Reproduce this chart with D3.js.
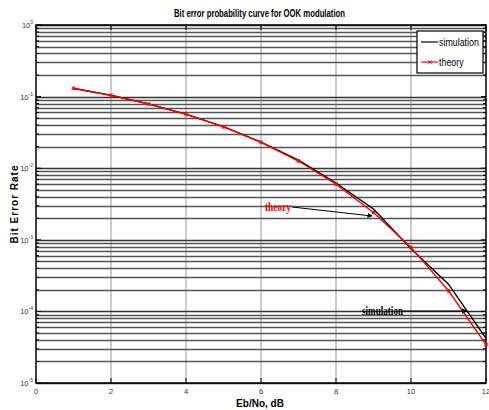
<!DOCTYPE html>
<html><head><meta charset="utf-8">
<script src="https://cdn.jsdelivr.net/npm/d3@7"></script>
<style>
body{margin:0;background:#fff;}
svg{display:block;}
</style></head>
<body>
<svg id="c" width="489" height="410"></svg>
<script>
const ebno = [1,2,3,4,5,6,7,8,9,10,11,12];
const theory = [0.1309,0.1040,0.0789,0.0565,0.0377,0.0230,0.0126,0.0060,0.00241,0.000783,0.000194,0.0000343];
const simulation = [0.1300,0.1045,0.0790,0.0568,0.0380,0.0232,0.0130,0.0062,0.0027,0.00075,0.00024,0.0000420];
const xTicks = [0,2,4,6,8,10,12];
const yDecades = [-5,-4,-3,-2,-1,0];
const titleText = "Bit error probability curve for OOK modulation";
const xLabel = "Eb/No, dB";
const yLabel = "Bit Error Rate";
const legendNames = ["simulation","theory"];

const svg = d3.select("#c");
const L=36, R=486, T=25, B=383;
const x = d3.scaleLinear().domain([0,12]).range([L,R]);
const y = d3.scaleLog().domain([1e-5,1]).range([B,T]);
const sans = "Arial,'Liberation Sans',sans-serif";
const serif = "'Liberation Serif','Times New Roman',serif";

const minor = [];
for (let d=-5; d<0; d++) for (let m=1; m<10; m++) minor.push(m*Math.pow(10,d));
minor.push(1);

const g = svg.append("g");
g.selectAll(".vg").data(xTicks.slice(1,-1)).enter().append("line")
  .attr("x1",d=>x(d)).attr("x2",d=>x(d)).attr("y1",T).attr("y2",B)
  .attr("stroke","#9a9a9a").attr("stroke-width",1);
g.selectAll(".hg").data(minor).enter().append("line")
  .attr("x1",L).attr("x2",R).attr("y1",d=>Math.round(y(d))+0.5).attr("y2",d=>Math.round(y(d))+0.5)
  .attr("stroke",d=>Math.abs(Math.log10(d)%1)<1e-9?"#333":"#555").attr("stroke-width",1.3);

const tk = svg.append("g").attr("stroke","#000").attr("stroke-width",1);
xTicks.forEach(v=>{
  tk.append("line").attr("x1",x(v)).attr("x2",x(v)).attr("y1",B).attr("y2",B-5);
  tk.append("line").attr("x1",x(v)).attr("x2",x(v)).attr("y1",T).attr("y2",T+5);
});
minor.forEach(v=>{
  const len = Math.abs(Math.log10(v)%1)<1e-9?5:3;
  tk.append("line").attr("x1",L).attr("x2",L+len).attr("y1",y(v)).attr("y2",y(v));
  tk.append("line").attr("x1",R).attr("x2",R-len).attr("y1",y(v)).attr("y2",y(v));
});
svg.append("rect").attr("x",L).attr("y",T).attr("width",R-L).attr("height",B-T)
  .attr("fill","none").attr("stroke","#000").attr("stroke-width",1.5);

svg.selectAll(".xl").data(xTicks).enter().append("text")
  .attr("x",d=>x(d)).attr("y",B+11).attr("text-anchor","middle")
  .attr("font-family",sans).attr("font-size",7.5).attr("fill","#333").text(d=>d);
yDecades.forEach(d=>{
  const t = svg.append("text").attr("x",L-3).attr("y",y(Math.pow(10,d))+3)
    .attr("text-anchor","end").attr("font-family",sans).attr("font-size",7.5).attr("fill","#333");
  t.append("tspan").text("10");
  t.append("tspan").attr("dy",-4).attr("font-size",5).text(d);
});

const line = d3.line().x((d,i)=>x(ebno[i])).y(d=>y(d));
svg.append("path").datum(simulation).attr("d",line).attr("fill","none").attr("stroke","#000").attr("stroke-width",1.4);
svg.append("path").datum(theory).attr("d",line).attr("fill","none").attr("stroke","#f00").attr("stroke-width",1.4);
const mk = svg.append("g").attr("stroke","#f00").attr("stroke-width",1);
theory.forEach((v,i)=>{
  const cx=x(ebno[i]), cy=y(v), s=1.8;
  mk.append("line").attr("x1",cx-s).attr("x2",cx+s).attr("y1",cy).attr("y2",cy);
  mk.append("line").attr("x1",cx).attr("x2",cx).attr("y1",cy-s).attr("y2",cy+s);
  mk.append("line").attr("x1",cx-s).attr("x2",cx+s).attr("y1",cy-s).attr("y2",cy+s);
  mk.append("line").attr("x1",cx-s).attr("x2",cx+s).attr("y1",cy+s).attr("y2",cy-s);
});

svg.append("text").attr("x",174).attr("y",17)
  .attr("font-family",sans).attr("font-weight","bold").attr("font-size",10)
  .attr("textLength",171).attr("lengthAdjust","spacingAndGlyphs").text(titleText);
svg.append("text").attr("x",260).attr("y",407).attr("text-anchor","middle")
  .attr("font-family",sans).attr("font-weight","bold").attr("font-size",10).text(xLabel);
svg.append("text").attr("transform","translate(18,"+((T+B)/2)+") rotate(-90)").attr("text-anchor","middle")
  .attr("font-family",sans).attr("font-weight","bold").attr("font-size",10)
  .attr("letter-spacing",1).text(yLabel);

const lg = svg.append("g");
lg.append("rect").attr("x",417).attr("y",31).attr("width",66).attr("height",42)
  .attr("fill","#fff").attr("stroke","#000").attr("stroke-width",1.2);
const lc = ["#000","#f00"];
legendNames.forEach((n,i)=>{
  const yy = 42+i*20;
  lg.append("line").attr("x1",421).attr("x2",438).attr("y1",yy).attr("y2",yy).attr("stroke",lc[i]).attr("stroke-width",1.2);
  if(i===1){
    const cx=430,s=1.6;
    lg.append("line").attr("x1",cx-s).attr("x2",cx+s).attr("y1",yy-s).attr("y2",yy+s).attr("stroke","#f00");
    lg.append("line").attr("x1",cx-s).attr("x2",cx+s).attr("y1",yy+s).attr("y2",yy-s).attr("stroke","#f00");
  }
  lg.append("text").attr("transform","translate(439,"+(yy+4)+") scale(0.77,1)")
    .attr("font-family",sans).attr("font-size",11.5).text(n);
});

const defs = svg.append("defs");
defs.append("marker").attr("id","ah").attr("viewBox","0 0 10 10").attr("refX",9).attr("refY",5)
  .attr("markerWidth",5).attr("markerHeight",5).attr("orient","auto")
  .append("path").attr("d","M0,0 L10,5 L0,10 z").attr("fill","#000");
svg.append("text").attr("x",265).attr("y",211).attr("font-family",serif)
  .attr("font-weight","bold").attr("font-size",12).attr("fill","#f00")
  .attr("textLength",26).attr("lengthAdjust","spacingAndGlyphs").text("theory");
svg.append("line").attr("x1",292).attr("y1",207).attr("x2",372).attr("y2",216)
  .attr("stroke","#000").attr("stroke-width",1).attr("marker-end","url(#ah)");
svg.append("text").attr("x",362).attr("y",315).attr("font-family",serif)
  .attr("font-weight","bold").attr("font-size",12).attr("fill","#000")
  .attr("textLength",41).attr("lengthAdjust","spacingAndGlyphs").text("simulation");
svg.append("line").attr("x1",403).attr("y1",311).attr("x2",467).attr("y2",311)
  .attr("stroke","#000").attr("stroke-width",1.2).attr("marker-end","url(#ah)");
</script>
</body></html>
